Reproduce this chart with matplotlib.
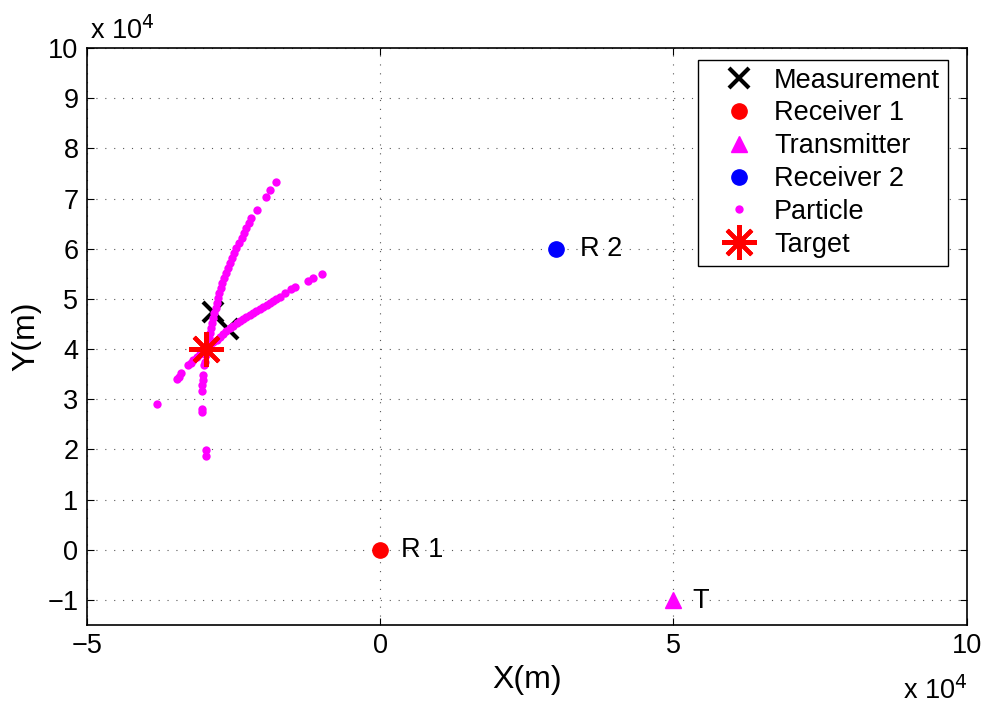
import matplotlib.pyplot as plt
from matplotlib.ticker import FuncFormatter

plt.rcParams['font.family'] = ['Liberation Sans', 'DejaVu Sans']

# --- data (metres) ---
meas_x = [-28400, -25910]
meas_y = [47440, 43990]

rx1 = [0]
ry1 = [0]
rx2 = [30000]
ry2 = [60000]
tx = [50000]
ty = [-10000]

target_x = [-29700]
target_y = [40100]

# steep branch of the particle cloud
part1_x = [-17780, -18680, -19480, -20960, -21920, -22340, -22770, -23200,
           -23620, -24050, -24480, -24820, -25160, -25530, -25910, -26250,
           -26590, -26880, -27150, -27410, -27660, -27870, -28050, -28260,
           -28460, -28630, -28800, -28980, -29150, -29260, -29370, -29620,
           -29880, -30050, -30170, -30170, -30270, -30270, -30270, -30340,
           -29710, -29590]
part1_y = [73230, 71640, 70360, 67770, 66060, 65060, 64060, 63060,
           62070, 61070, 60070, 59080, 58080, 57090, 56090, 55090,
           54090, 53100, 52100, 51110, 50110, 49110, 48120, 47120,
           46120, 45130, 44130, 43130, 42140, 41140, 40140, 38810,
           37470, 36810, 34820, 33830, 32830, 31630, 28040, 27510,
           19870, 18680]

# shallow branch
part2_x = [-38010, -34700, -34310, -33850, -32720, -32300, -31870, -31290,
           -30730, -30170, -29590, -29030, -28460, -27880, -27320, -26760,
           -26180, -25620, -25050, -24470, -23910, -23350, -22770, -22210,
           -21650, -21070, -20500, -19940, -19360, -18800, -18240, -17660,
           -17100, -16240, -15100, -14540, -12270, -11420, -9820]
part2_y = [28980, 34020, 34520, 35160, 36810, 37310, 37810, 38370,
           38950, 39550, 40140, 40740, 41340, 41900, 42450, 43030,
           43590, 44130, 44650, 45130, 45580, 46020, 46440, 46840,
           47240, 47620, 47980, 48380, 48770, 49170, 49570, 49970,
           50430, 51230, 51900, 52360, 53560, 54090, 54950]

labels = [("R 1", 3560, 0), ("R 2", 34040, 60000), ("T", 53280, -10300)]

xticks = [-50000, 0, 50000, 100000]
yticks = list(range(-10000, 100001, 10000))

FS = 19.5

fig = plt.figure(figsize=(9.88, 7.06), dpi=100)
ax = fig.add_axes([0.0878, 0.1147, 0.8907, 0.8173])

ax.plot(meas_x, meas_y, 'x', color='k', ms=15, mew=3, ls='none', label='Measurement')
ax.plot(rx1, ry1, 'o', color='r', ms=11, mec='r', ls='none', label='Receiver 1')
ax.plot(tx, ty, '^', color='#ff00ff', ms=12, mec='#ff00ff', ls='none', label='Transmitter')
ax.plot(rx2, ry2, 'o', color='b', ms=11, mec='b', ls='none', label='Receiver 2')
ax.plot(part1_x + part2_x, part1_y + part2_y, 'o', color='#ff00ff', ms=6, mew=0,
        ls='none', label='Particle')
ax.plot(target_x, target_y, marker=(8, 2, 0), color='r', ms=25, mew=3, ls='none',
        label='Target')

for txt, x, y in labels:
    ax.text(x, y, txt, fontsize=FS, va='center', ha='left')

ax.set_xlim(-50000, 100000)
ax.set_ylim(-15000, 100000)
ax.set_xticks(xticks)
ax.set_yticks(yticks)
fmt = FuncFormatter(lambda v, p: f"{v / 1e4:g}".replace('-', '\u2212'))
ax.xaxis.set_major_formatter(fmt)
ax.yaxis.set_major_formatter(fmt)
ax.tick_params(direction='in', length=5, width=0.8, top=True, right=True,
               labelsize=FS, pad=6)
for s in ax.spines.values():
    s.set_linewidth(1.2)

ax.grid(True, color='0.35', linestyle=(0, (1, 7)), linewidth=0.8)
ax.set_axisbelow(True)

ax.set_xlabel('X(m)', fontsize=23, labelpad=4)
ax.set_ylabel('Y(m)', fontsize=23, labelpad=4)

fig.text(0.091, 0.957, r'x 10$^4$', fontsize=FS, ha='left', va='center')
fig.text(0.914, 0.022, r'x 10$^4$', fontsize=FS, ha='left', va='center')

leg = ax.legend(loc='upper right', bbox_to_anchor=(0.979, 0.980), borderaxespad=0,
                fontsize=FS, labelspacing=0.25, handlelength=2.4, handletextpad=0.1,
                borderpad=0.3, fancybox=False, framealpha=1, edgecolor='k')
leg.get_frame().set_linewidth(1.0)

fig.savefig('out.png', dpi=100)
